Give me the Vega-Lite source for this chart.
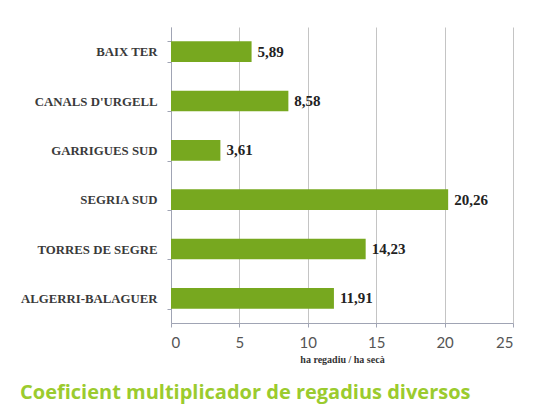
{
  "$schema": "https://vega.github.io/schema/vega-lite/v6.json",
  "width": 342,
  "height": 296,
  "autosize": {"type": "none"},
  "padding": {"left": 171, "top": 27, "right": 40, "bottom": 94},
  "background": "white",
  "title": {
    "text": "Coeficient multiplicador de regadius diversos",
    "orient": "bottom",
    "anchor": "start",
    "frame": "group",
    "dx": -151,
    "offset": 19,
    "font": "Open Sans",
    "fontSize": 20,
    "fontWeight": "bold",
    "color": "#9bcb2e"
  },
  "data": {
    "values": [
      {"zona": "BAIX TER", "coef": 5.89, "label": "5,89"},
      {"zona": "CANALS D'URGELL", "coef": 8.58, "label": "8,58"},
      {"zona": "GARRIGUES SUD", "coef": 3.61, "label": "3,61"},
      {"zona": "SEGRIA SUD", "coef": 20.26, "label": "20,26"},
      {"zona": "TORRES DE SEGRE", "coef": 14.23, "label": "14,23"},
      {"zona": "ALGERRI-BALAGUER", "coef": 11.91, "label": "11,91"}
    ]
  },
  "encoding": {
    "y": {
      "field": "zona",
      "type": "nominal",
      "sort": null,
      "scale": {"paddingInner": 0.58, "paddingOuter": 0.29},
      "axis": {
        "title": null,
        "labelFont": "Liberation Serif",
        "labelFontWeight": "bold",
        "labelFontSize": 12.8,
        "labelColor": "#3a3a3a",
        "labelPadding": 10,
        "tickBand": "extent",
        "tickSize": 4,
        "tickColor": "#a0a4b4",
        "domainColor": "#a0a4b4",
        "grid": false
      }
    },
    "x": {
      "field": "coef",
      "type": "quantitative",
      "scale": {"domain": [0, 25], "nice": false},
      "axis": {
        "values": [0, 5, 10, 15, 20, 25],
        "title": "ha regadiu / ha secà",
        "titleFont": "Liberation Serif",
        "titleFontSize": 10,
        "titleFontWeight": "bold",
        "titleColor": "#333333",
        "titlePadding": 4,
        "labelFont": "Lato",
        "labelFontSize": 15,
        "labelColor": "#555555",
        "labelPadding": 8,
        "tickSize": 4,
        "tickColor": "#a0a4b4",
        "domainColor": "#a0a4b4",
        "gridColor": "#c4c4c4",
        "gridWidth": 1
      }
    }
  },
  "layer": [
    {"mark": {"type": "bar", "color": "#77a81f"}},
    {
      "mark": {
        "type": "text",
        "align": "left",
        "dx": 6,
        "font": "Liberation Serif",
        "fontWeight": "bold",
        "fontSize": 15,
        "color": "#222222"
      },
      "encoding": {"text": {"field": "label"}}
    }
  ],
  "config": {"view": {"stroke": null}}
}
